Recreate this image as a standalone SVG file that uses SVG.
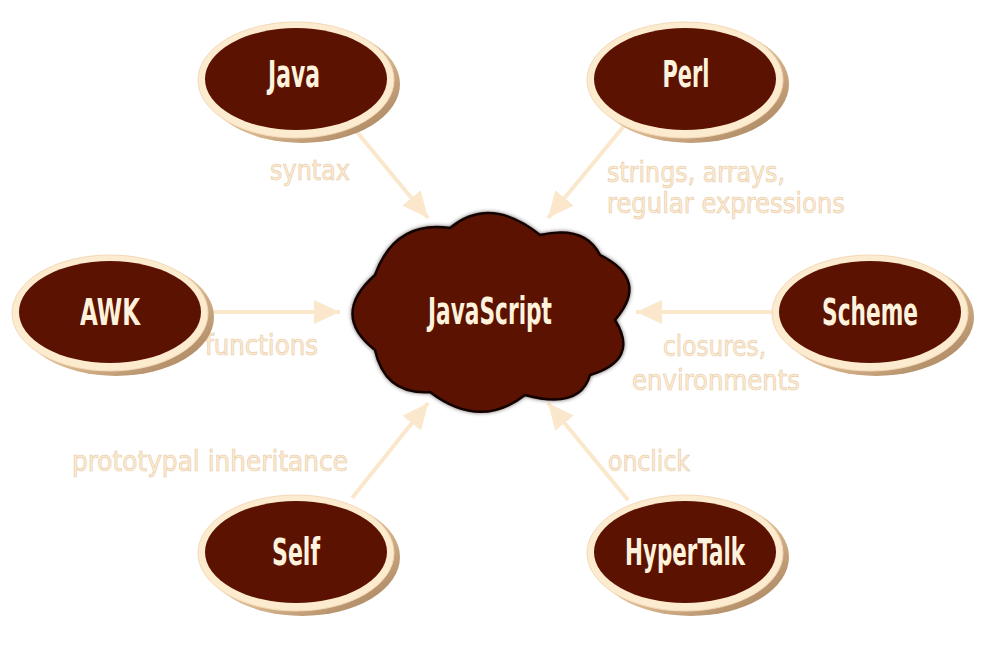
<svg xmlns="http://www.w3.org/2000/svg" width="993" height="646" viewBox="0 0 993 646">
<style>
.ring{fill:#fdebd0;stroke:#f3d9b6;stroke-width:1}
.core{fill:#5b1200}
.shadow{fill:url(#sh)}
.ntext{font-family:"DejaVu Sans Condensed","Liberation Sans",sans-serif;font-weight:bold;font-size:37px;fill:#fff2dc;text-anchor:middle}
.lbl{font-family:"DejaVu Sans Condensed","Liberation Sans",sans-serif;font-size:29px;fill:#fdecd4;stroke:#e6c9a2;stroke-width:0.6}
.conn{stroke:#fbe8cc;stroke-width:4;fill:none;marker-end:url(#ah)}
</style>
<defs>
<linearGradient id="sh" x1="0" y1="0" x2="1" y2="1">
<stop offset="0" stop-color="#f6e0c2"/>
<stop offset="0.6" stop-color="#d6b48c"/>
<stop offset="1" stop-color="#9f7a56"/>
</linearGradient>
<marker id="ah" markerUnits="userSpaceOnUse" markerWidth="30" markerHeight="26" refX="26" refY="12" orient="auto">
<path d="M0,0 L26,12 L0,24 Z" fill="#fbe8cc"/>
</marker>
<filter id="glow" x="-10%" y="-10%" width="120%" height="120%">
<feGaussianBlur stdDeviation="2.5"/>
</filter>
</defs>
<rect width="993" height="646" fill="#ffffff"/>
<g id="connectors">
<line class="conn" x1="352" y1="126" x2="428" y2="218"/>
<line class="conn" x1="624" y1="126" x2="548" y2="218"/>
<line class="conn" x1="208" y1="312" x2="340" y2="312"/>
<line class="conn" x1="776" y1="312" x2="636" y2="312"/>
<line class="conn" x1="352" y1="498" x2="428" y2="403"/>
<line class="conn" x1="628" y1="500" x2="548" y2="403"/>
</g>
<g id="labels">
<text class="lbl" x="270" y="180" textLength="80" lengthAdjust="spacingAndGlyphs">syntax</text>
<text class="lbl" x="607" y="182" textLength="178" lengthAdjust="spacingAndGlyphs">strings, arrays,</text>
<text class="lbl" x="607" y="213" textLength="238" lengthAdjust="spacingAndGlyphs">regular expressions</text>
<text class="lbl" x="205" y="355" textLength="113" lengthAdjust="spacingAndGlyphs">functions</text>
<text class="lbl" x="663" y="356" textLength="103" lengthAdjust="spacingAndGlyphs">closures,</text>
<text class="lbl" x="632" y="390" textLength="168" lengthAdjust="spacingAndGlyphs">environments</text>
<text class="lbl" x="72" y="471" textLength="276" lengthAdjust="spacingAndGlyphs">prototypal inheritance</text>
<text class="lbl" x="608" y="471" textLength="82" lengthAdjust="spacingAndGlyphs">onclick</text>
</g>
<g id="node-javascript">
<path d="M375,275 Q395,220 450,228 Q490,195 540,235 Q585,225 600,255 Q650,280 615,320 Q640,360 590,375 Q580,410 525,395 Q480,430 430,392 Q385,395 375,350 Q330,315 375,275 Z" fill="#1a0300" filter="url(#glow)"/>
<path d="M375,275 Q395,220 450,228 Q490,195 540,235 Q585,225 600,255 Q650,280 615,320 Q640,360 590,375 Q580,410 525,395 Q480,430 430,392 Q385,395 375,350 Q330,315 375,275 Z" fill="#5b1200" stroke="#120200" stroke-width="2.5"/>
<text class="ntext" x="490" y="324" font-size="36" textLength="124" lengthAdjust="spacingAndGlyphs">JavaScript</text>
</g>
<g id="node-java">
<ellipse class="shadow" cx="302" cy="84" rx="98" ry="59"/>
<ellipse class="ring" cx="296" cy="80" rx="98" ry="58"/>
<ellipse class="core" cx="296" cy="79" rx="91" ry="51"/>
<text class="ntext" x="294" y="87" textLength="52" lengthAdjust="spacingAndGlyphs">Java</text>
</g>
<g id="node-perl">
<ellipse class="shadow" cx="691" cy="84" rx="98" ry="59"/>
<ellipse class="ring" cx="685" cy="80" rx="98" ry="58"/>
<ellipse class="core" cx="685" cy="79" rx="91" ry="51"/>
<text class="ntext" x="686" y="87" textLength="47" lengthAdjust="spacingAndGlyphs">Perl</text>
</g>
<g id="node-awk">
<ellipse class="shadow" cx="116" cy="317" rx="98" ry="59"/>
<ellipse class="ring" cx="110" cy="313" rx="98" ry="58"/>
<ellipse class="core" cx="110" cy="312" rx="91" ry="51"/>
<text class="ntext" x="110" y="325" textLength="60" lengthAdjust="spacingAndGlyphs">AWK</text>
</g>
<g id="node-scheme">
<ellipse class="shadow" cx="876" cy="317" rx="98" ry="59"/>
<ellipse class="ring" cx="870" cy="313" rx="98" ry="58"/>
<ellipse class="core" cx="870" cy="312" rx="91" ry="51"/>
<text class="ntext" x="870" y="325" textLength="96" lengthAdjust="spacingAndGlyphs">Scheme</text>
</g>
<g id="node-self">
<ellipse class="shadow" cx="302" cy="557" rx="98" ry="59"/>
<ellipse class="ring" cx="296" cy="553" rx="98" ry="58"/>
<ellipse class="core" cx="296" cy="552" rx="91" ry="51"/>
<text class="ntext" x="296" y="565" textLength="48" lengthAdjust="spacingAndGlyphs">Self</text>
</g>
<g id="node-hypertalk">
<ellipse class="shadow" cx="691" cy="557" rx="98" ry="59"/>
<ellipse class="ring" cx="685" cy="553" rx="98" ry="58"/>
<ellipse class="core" cx="685" cy="552" rx="91" ry="51"/>
<text class="ntext" x="685" y="565" textLength="120" lengthAdjust="spacingAndGlyphs">HyperTalk</text>
</g>
</svg>
